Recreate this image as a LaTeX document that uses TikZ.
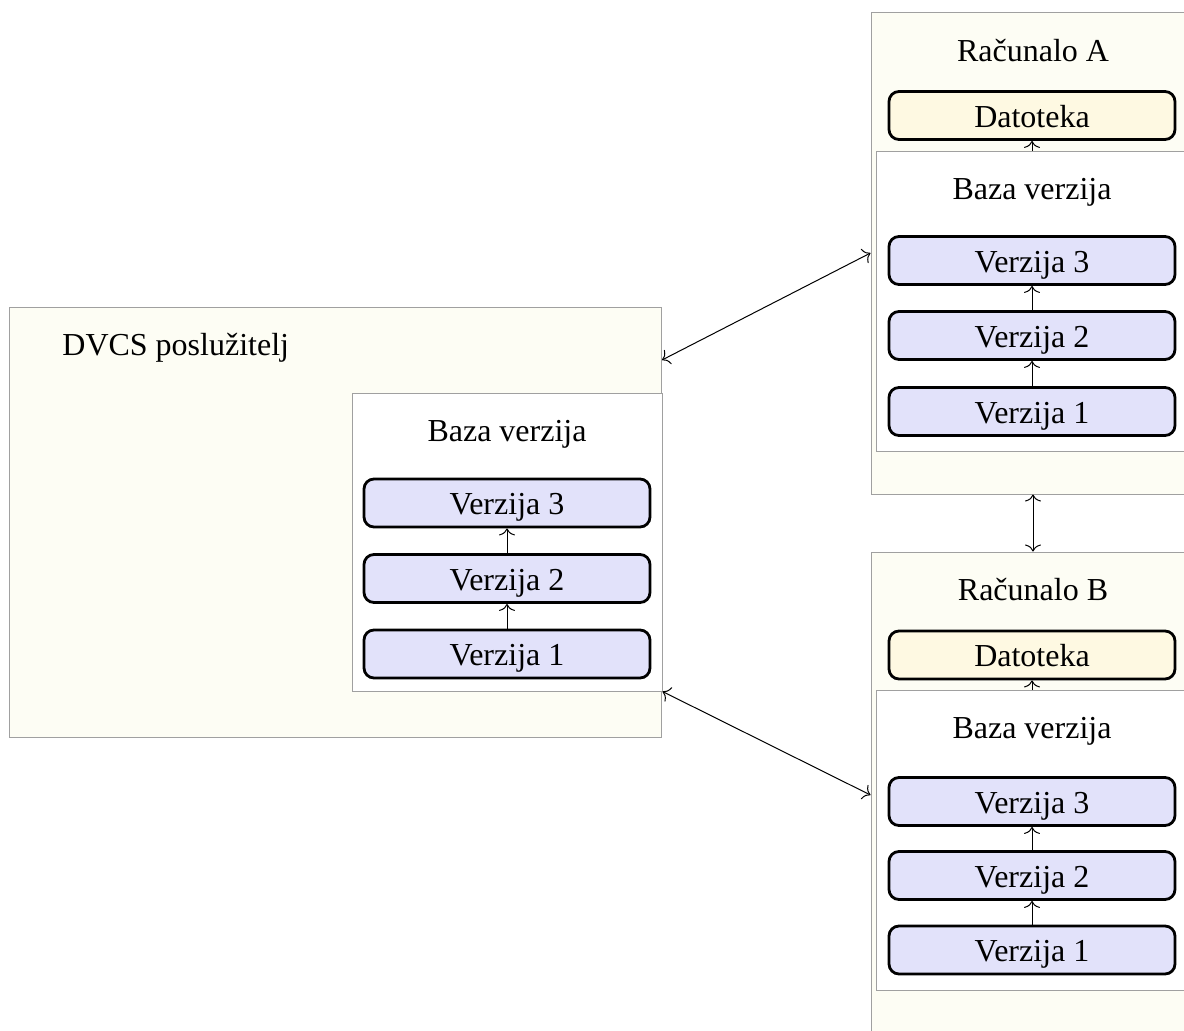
\documentclass[tikz,border=0pt]{standalone}
\usepackage{fontspec}
\setmainfont{Liberation Serif}
\usetikzlibrary{arrows.meta}
\definecolor{outerfill}{RGB}{253,253,244}
\definecolor{boxgray}{RGB}{160,160,160}
\definecolor{verfill}{RGB}{226,226,250}
\definecolor{filefill}{RGB}{254,249,226}
\tikzset{
  every node/.style={font=\fontsize{16}{19}\selectfont, inner sep=0pt},
  outerbox/.style={draw=boxgray, fill=outerfill, line width=0.5pt, rectangle},
  innerbox/.style={draw=boxgray, fill=white, line width=0.5pt, rectangle},
  verbox/.style={draw=black, fill=verfill, line width=1.4pt, rounded corners=5pt,
    minimum width=143pt, minimum height=24pt, text height=13pt, text depth=1.5pt},
  filebox/.style={verbox, fill=filefill},
  title/.style={anchor=base},
  link/.style={line width=0.5pt, {To[length=3.5pt,width=8pt]}-{To[length=3.5pt,width=8pt]}},
  uplink/.style={line width=0.5pt, -{To[length=3.5pt,width=8pt]}}
}
\begin{document}
\begin{tikzpicture}[x=0.5pt, y=-0.5pt]
\useasboundingbox (0,0) rectangle (1184,1030);
% DVCS server
\node[outerbox, minimum width=326pt, minimum height=215pt] (dvcs) at (335,522) {};
\node[anchor=base west] (dvcslbl) at (62,355) {DVCS poslužitelj};
\node[innerbox, minimum width=155pt, minimum height=149pt] (sbaza) at (507,542) {};
\node[title] (sbazalbl) at (507,441) {Baza verzija};
\node[verbox] (sv3) at (507,503) {Verzija 3};
\node[verbox] (sv2) at (507,578.5) {Verzija 2};
\node[verbox] (sv1) at (507,654) {Verzija 1};
\draw[uplink] (sv1) -- (sv2);
\draw[uplink] (sv2) -- (sv3);
% Racunalo A
\node[outerbox, minimum width=162pt, minimum height=241pt] (ra) at (1033,253) {};
\node[title] (ralbl) at (1033,61) {Računalo A};
\node[filebox] (fa) at (1032,115.5) {Datoteka};
\node[innerbox, minimum width=157pt, minimum height=150pt] (abaza) at (1033,301) {};
\node[title] (abazalbl) at (1032,199) {Baza verzija};
\node[verbox] (av3) at (1032,260.5) {Verzija 3};
\node[verbox] (av2) at (1032,335.5) {Verzija 2};
\node[verbox] (av1) at (1032,411.5) {Verzija 1};
\draw[uplink] (av1) -- (av2);
\draw[uplink] (av2) -- (av3);
\draw[uplink] (abaza.north -| fa.south) -- (fa.south);
% Racunalo B
\node[outerbox, minimum width=162pt, minimum height=243pt] (rb) at (1033,795) {};
\node[title] (rblbl) at (1033,600) {Računalo B};
\node[filebox] (fb) at (1032,655) {Datoteka};
\node[innerbox, minimum width=157pt, minimum height=150pt] (bbaza) at (1033,840) {};
\node[title] (bbazalbl) at (1032,738) {Baza verzija};
\node[verbox] (bv3) at (1032,801.5) {Verzija 3};
\node[verbox] (bv2) at (1032,875.5) {Verzija 2};
\node[verbox] (bv1) at (1032,950) {Verzija 1};
\draw[uplink] (bv1) -- (bv2);
\draw[uplink] (bv2) -- (bv3);
\draw[uplink] (bbaza.north -| fb.south) -- (fb.south);
% links
\coordinate (dA) at (662,360);
\draw[link] (dA) -- (ra.west);
\draw[link] (sbaza.south east) -- (rb.west);
\draw[link] (ra.south) -- (rb.north);
\end{tikzpicture}
\end{document}
